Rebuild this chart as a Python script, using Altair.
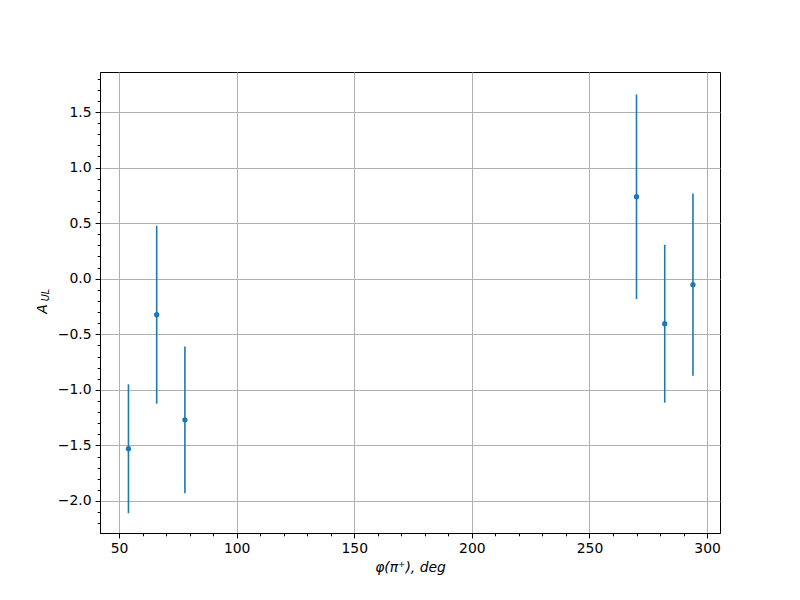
import altair as alt
import pandas as pd

phi = [54, 66, 78, 270, 282, 294]
a_ul = [-1.53, -0.324, -1.27, 0.738, -0.405, -0.054]
err = [0.58, 0.80, 0.66, 0.92, 0.71, 0.82]

x_ticks = list(range(50, 301, 10))
y_ticks = [round(i * 0.1, 1) for i in range(-22, 19)]

df = pd.DataFrame({"phi": phi, "a": a_ul, "err": err})
df["lo"] = df["a"] - df["err"]
df["hi"] = df["a"] + df["err"]

blue = "#1f77b4"
font = "DejaVu Sans"

x_scale = alt.Scale(domain=[41.9, 305.5], nice=False, zero=False)
y_scale = alt.Scale(domain=[-2.288, 1.86], nice=False, zero=False)

xmaj = "abs(datum.value / 50 - round(datum.value / 50)) < 1e-6"
ymaj = "abs(datum.value * 2 - round(datum.value * 2)) < 1e-6"

x_axis = alt.Axis(
    values=x_ticks,
    tickCount=200,
    labelExpr=f"{xmaj} ? datum.label : ''",
    tickSize={"condition": {"test": xmaj, "value": 4.9}, "value": 2.8},
    gridOpacity={"condition": {"test": xmaj, "value": 1}, "value": 0},
    title="φ(π⁺), deg",
    titleFontStyle="italic",
    titleFontWeight="normal",
    titleFontSize=13.9,
    titlePadding=5,
)
y_axis = alt.Axis(
    values=y_ticks,
    tickCount=200,
    labelExpr=f"{ymaj} ? format(datum.value, '.1f') : ''",
    tickSize={"condition": {"test": ymaj, "value": 4.9}, "value": 2.8},
    gridOpacity={"condition": {"test": ymaj, "value": 1}, "value": 0},
    title=None,
)

base = alt.Chart(df)
bars = base.mark_rule(color=blue, strokeWidth=1.6).encode(
    x=alt.X("phi:Q", scale=x_scale, axis=x_axis),
    y=alt.Y("lo:Q", scale=y_scale, axis=y_axis),
    y2="hi:Q",
)
pts = base.mark_point(filled=True, color=blue, size=28, opacity=1).encode(
    x=alt.X("phi:Q", scale=x_scale),
    y=alt.Y("a:Q", scale=y_scale),
)

lab = pd.DataFrame({"t": ["A"]})
title_a = alt.Chart(lab).mark_text(
    text="A", angle=270, font=font, fontSize=13.9, fontStyle="italic", color="black"
).encode(x=alt.value(-57), y=alt.value(237))
title_ul = alt.Chart(lab).mark_text(
    text="UL", angle=270, font=font, fontSize=9.7, fontStyle="italic", color="black"
).encode(x=alt.value(-54), y=alt.value(223))

chart = (
    alt.layer(bars, pts, title_a, title_ul)
    .properties(
        width=620,
        height=461,
        autosize=alt.AutoSizeParams(type="none"),
        padding={"left": 92, "top": 64, "right": 72, "bottom": 59},
        background="white",
    )
    .configure_view(stroke="black", strokeWidth=1)
    .configure_axis(
        labelFont=font,
        titleFont=font,
        labelFontSize=13.9,
        labelColor="black",
        titleColor="black",
        gridColor="#b0b0b0",
        gridWidth=1,
        tickColor="black",
        domainColor="black",
        labelPadding=4,
        labelFlush=False,
        labelOverlap=False,
    )
)

chart.save("out.html", embed_options={"renderer": "svg", "actions": False})
